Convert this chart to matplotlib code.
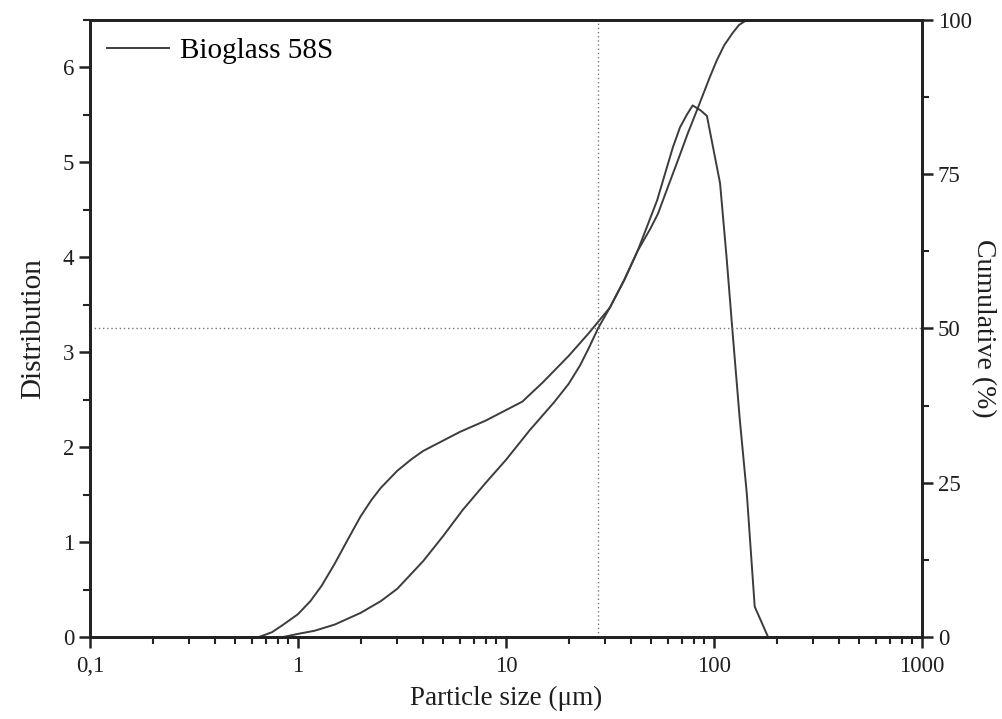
import numpy as np
import matplotlib
matplotlib.use('Agg')
from matplotlib import pyplot as plt
from matplotlib.ticker import FixedLocator, LogLocator, NullFormatter, MultipleLocator

plt.rcParams['font.family'] = ['Liberation Serif', 'DejaVu Serif']

# Distribution curve (left axis)
size_dist = [0.65, 0.75, 0.85, 1.0, 1.15, 1.3, 1.5, 1.75, 2.0, 2.25, 2.5, 3.0,
             3.5, 4.0, 5.0, 6.0, 8.0, 10, 12, 15, 20, 25, 31.6, 37, 43, 47.6,
             53.3, 63.5, 68.7, 74, 79, 86, 92.5, 99.6, 107, 115, 123, 133,
             144, 157, 182]
dist = [0.0, 0.05, 0.13, 0.24, 0.38, 0.54, 0.77, 1.04, 1.27, 1.44, 1.57, 1.75,
        1.87, 1.96, 2.07, 2.16, 2.28, 2.39, 2.48, 2.68, 2.96, 3.2, 3.47, 3.76,
        4.07, 4.32, 4.6, 5.16, 5.37, 5.5, 5.6, 5.55, 5.49, 5.13, 4.78, 4.0,
        3.2, 2.3, 1.5, 0.32, 0.0]

# Cumulative curve (right axis, %)
size_cum = [0.85, 1.0, 1.2, 1.5, 2.0, 2.5, 3.0, 4.0, 5.0, 6.2, 8.0, 10, 13,
            17, 20, 22.7, 25, 27.7, 31.6, 37, 43, 49.5, 53.8, 60, 67, 75, 83.8,
            90, 95.7, 103, 112, 123, 132, 144]
cum = [0.0, 0.5, 1.0, 2.0, 3.9, 5.8, 7.8, 12.3, 16.4, 20.6, 25.0, 28.7, 33.5,
       38.0, 41.0, 44.0, 46.8, 50.0, 53.4, 57.8, 62.6, 66.2, 68.6, 72.9, 77.2,
       81.7, 85.8, 88.5, 90.8, 93.4, 95.9, 97.9, 99.2, 100.0]

d50 = 27.7
xticks = [0.1, 1, 10, 100, 1000]
xticklabels = ['0,1', '1', '10', '100', '1000']

line_color = '#3c3c3c'
text_color = '#1e1e1e'

fig = plt.figure(figsize=(10.02, 7.19), dpi=100)
ax = fig.add_axes([0.0898, 0.1141, 0.8303, 0.8581])
ax2 = ax.twinx()

ax.plot(size_dist, dist, color=line_color, lw=1.4, label='Bioglass 58S')
ax2.plot(size_cum, cum, color=line_color, lw=1.4)

ax.axvline(d50, color='#777777', lw=1.0, ls=(0, (1, 2)))
ax2.axhline(50, color='#777777', lw=1.0, ls=(0, (1, 2)))

ax.set_xscale('log')
ax.set_xlim(0.1, 1000)
ax.set_ylim(0, 6.5)
ax2.set_ylim(0, 100)

ax.xaxis.set_major_locator(FixedLocator(xticks))
ax.set_xticklabels(xticklabels)
ax.xaxis.set_minor_locator(LogLocator(base=10, subs=np.arange(2, 10)))
ax.xaxis.set_minor_formatter(NullFormatter())

ax.yaxis.set_major_locator(MultipleLocator(1))
ax.yaxis.set_minor_locator(MultipleLocator(0.5))
ax2.yaxis.set_major_locator(MultipleLocator(25))
ax2.yaxis.set_minor_locator(MultipleLocator(12.5))

for a in (ax, ax2):
    for s in a.spines.values():
        s.set_linewidth(2.0)
        s.set_color('#222222')
    a.tick_params(which='major', direction='out', length=8, width=1.8,
                  labelsize=16.5, colors='#222222', labelcolor=text_color)
    a.tick_params(which='minor', direction='out', length=5, width=1.5,
                  colors='#222222')
ax.tick_params(axis='x', which='major', pad=6)
ax.tick_params(axis='y', which='both', right=False)

ax.set_xlabel('Particle size (μm)', fontsize=19.5, color=text_color, labelpad=6)
ax.set_ylabel('Distribution', fontsize=21, color=text_color, labelpad=12)
ax2.set_ylabel('Cumulative (%)', fontsize=20, color=text_color, rotation=270, labelpad=17)

ax.legend(loc='upper left', frameon=False, fontsize=21, handlelength=2.1,
          borderaxespad=0.3, handletextpad=0.4, borderpad=0.3)

fig.savefig('out.png', dpi=100)
